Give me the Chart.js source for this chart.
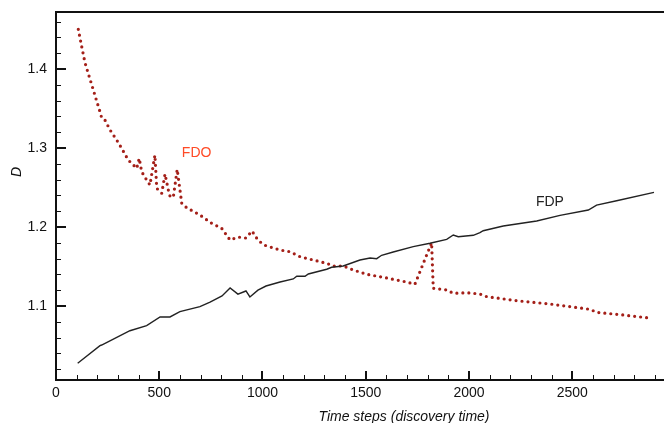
<!DOCTYPE html>
<html>
<head>
<meta charset="utf-8">
<script src="https://cdn.jsdelivr.net/npm/chart.js@4/dist/chart.umd.min.js"></script>
<style>
  html, body { margin: 0; padding: 0; overflow: hidden; background: #fff; width: 664px; height: 423px; }
  #wrap { width: 680px; height: 423px; }
</style>
</head>
<body>
<div id="wrap"><canvas id="c" width="680" height="423"></canvas></div>
<script>
// ---- data ----
const fdpX = [105,213,221,358,439,504,552,600,697,746,804,843,881,920,939,978,1017,1085,1149,1166,1206,1222,1311,1335,1391,1472,1521,1553,1577,1633,1730,1811,1892,1924,1948,2021,2053,2069,2166,2328,2441,2578,2618,2715,2896];
const fdpY = [1.0275,1.0497,1.0506,1.0687,1.0751,1.0861,1.0861,1.0928,1.0991,1.105,1.1127,1.1228,1.115,1.119,1.1114,1.120,1.1253,1.1304,1.1342,1.1376,1.1376,1.1405,1.1465,1.149,1.1506,1.1582,1.1608,1.1599,1.1642,1.1684,1.1751,1.1794,1.1844,1.1899,1.1877,1.1895,1.1928,1.1953,1.2013,1.2076,1.2148,1.2215,1.2278,1.2333,1.2439];
const fdoX = [108,124,140,156,181,197,213,221,237,262,294,318,350,391,403,415,439,455,479,488,512,528,544,552,568,587,609,633,697,754,802,843,881,920,949,978,1007,1085,1133,1182,1246,1311,1343,1391,1440,1505,1569,1633,1698,1738,1819,1827,1892,1924,1989,2053,2086,2231,2392,2586,2618,2747,2885];
const fdoY = [1.4503,1.4291,1.4085,1.3946,1.3734,1.3595,1.3459,1.3384,1.3354,1.3228,1.3101,1.2996,1.2848,1.2743,1.287,1.27,1.2595,1.2532,1.2911,1.249,1.2427,1.2671,1.2468,1.2392,1.2376,1.273,1.23,1.2244,1.2152,1.2047,1.1984,1.1835,1.1873,1.186,1.1949,1.1835,1.1772,1.1709,1.1687,1.1624,1.1582,1.154,1.1506,1.1506,1.1456,1.1401,1.1371,1.1338,1.1304,1.1275,1.1801,1.1224,1.1203,1.1161,1.1168,1.1152,1.1118,1.1067,1.1025,1.0958,1.092,1.0886,1.0844];
const xTickValues = [0, 500, 1000, 1500, 2000, 2500];
const yTickValues = [1.1, 1.2, 1.3, 1.4];
const xMinorStep = 100;
const yMinorStep = 0.02;
const seriesNames = ['FDP', 'FDO'];
const xTitle = 'Time steps (discovery time)';
const yTitle = 'D';

const FONT = '"Liberation Sans", Arial, Helvetica, sans-serif';

const toPts = (xs, ys) => xs.map((x, i) => ({ x: x, y: ys[i] }));

const decor = {
  id: 'decor',
  afterDraw(chart) {
    const ctx = chart.ctx;
    const a = chart.chartArea;
    const xs = chart.scales.x;
    const ys = chart.scales.y;
    ctx.save();
    ctx.fillStyle = '#111';
    // top frame line
    ctx.fillRect(a.left - 1, a.top - 1, a.right - a.left + 2, 2);
    // inward ticks on x axis
    const nx = Math.floor(xs.max / xMinorStep);
    for (let i = 1; i <= nx; i++) {
      const v = i * xMinorStep;
      const major = i % 5 === 0;
      const px = Math.round(xs.getPixelForValue(v));
      if (major) ctx.fillRect(px - 1, a.bottom - 9, 2, 9);
      else ctx.fillRect(px, a.bottom - 5, 1, 5);
    }
    // inward ticks on y axis
    for (let k = 51; k <= 73; k++) {
      const v = k * yMinorStep;
      if (v < ys.min || v > ys.max) continue;
      const major = k % 5 === 0;
      const py = Math.round(ys.getPixelForValue(v));
      if (major) ctx.fillRect(a.left, py - 1, 10, 2);
      else ctx.fillRect(a.left, py, 5, 1);
    }
    // axis titles
    ctx.font = 'italic 14px ' + FONT;
    ctx.textAlign = 'center';
    ctx.textBaseline = 'middle';
    ctx.fillText(xTitle, 404, 417);
    ctx.save();
    ctx.translate(17, 172);
    ctx.rotate(-Math.PI / 2);
    ctx.fillText(yTitle, 0, 0);
    ctx.restore();
    // series labels
    ctx.font = '14px ' + FONT;
    ctx.fillStyle = '#ff4a26';
    ctx.fillText(seriesNames[1], xs.getPixelForValue(681), ys.getPixelForValue(1.294));
    ctx.fillStyle = '#222';
    ctx.fillText(seriesNames[0], xs.getPixelForValue(2392), ys.getPixelForValue(1.2316));
    ctx.restore();
  }
};

new Chart(document.getElementById('c'), {
  type: 'line',
  data: {
    datasets: [
      {
        label: seriesNames[0],
        data: toPts(fdpX, fdpY),
        borderColor: '#222',
        borderWidth: 1.4,
        pointRadius: 0,
        tension: 0,
        fill: false
      },
      {
        label: seriesNames[1],
        data: toPts(fdoX, fdoY),
        borderColor: '#a41f18',
        borderWidth: 3.2,
        borderDash: [0, 6],
        borderCapStyle: 'round',
        pointRadius: 0,
        tension: 0,
        fill: false
      }
    ]
  },
  options: {
    responsive: false,
    animation: false,
    devicePixelRatio: 1,
    layout: { padding: { left: 0, top: 12, right: 7, bottom: 0 } },
    plugins: { legend: { display: false }, tooltip: { enabled: false } },
    scales: {
      x: {
        type: 'linear',
        min: 0,
        max: 2988,
        grid: { display: false, drawTicks: false },
        border: { display: true, color: '#111', width: 2 },
        afterBuildTicks: s => { s.ticks = xTickValues.map(v => ({ value: v })); },
        afterFit: s => { s.height = 43; s.paddingLeft = 0; s.paddingRight = 0; },
        ticks: {
          padding: 5,
          color: '#111',
          maxRotation: 0,
          autoSkip: false,
          font: { family: FONT, size: 14 },
          callback: v => String(v)
        }
      },
      y: {
        type: 'linear',
        min: 1.0063,
        max: 1.4722,
        grid: { display: false, drawTicks: false },
        border: { display: true, color: '#111', width: 2 },
        afterBuildTicks: s => { s.ticks = yTickValues.map(v => ({ value: v })); },
        afterFit: s => { s.width = 56; s.paddingTop = 0; s.paddingBottom = 0; },
        ticks: {
          padding: 9,
          color: '#111',
          autoSkip: false,
          font: { family: FONT, size: 14 },
          callback: v => Number(v).toFixed(1)
        }
      }
    }
  },
  plugins: [decor]
});
</script>
</body>
</html>
